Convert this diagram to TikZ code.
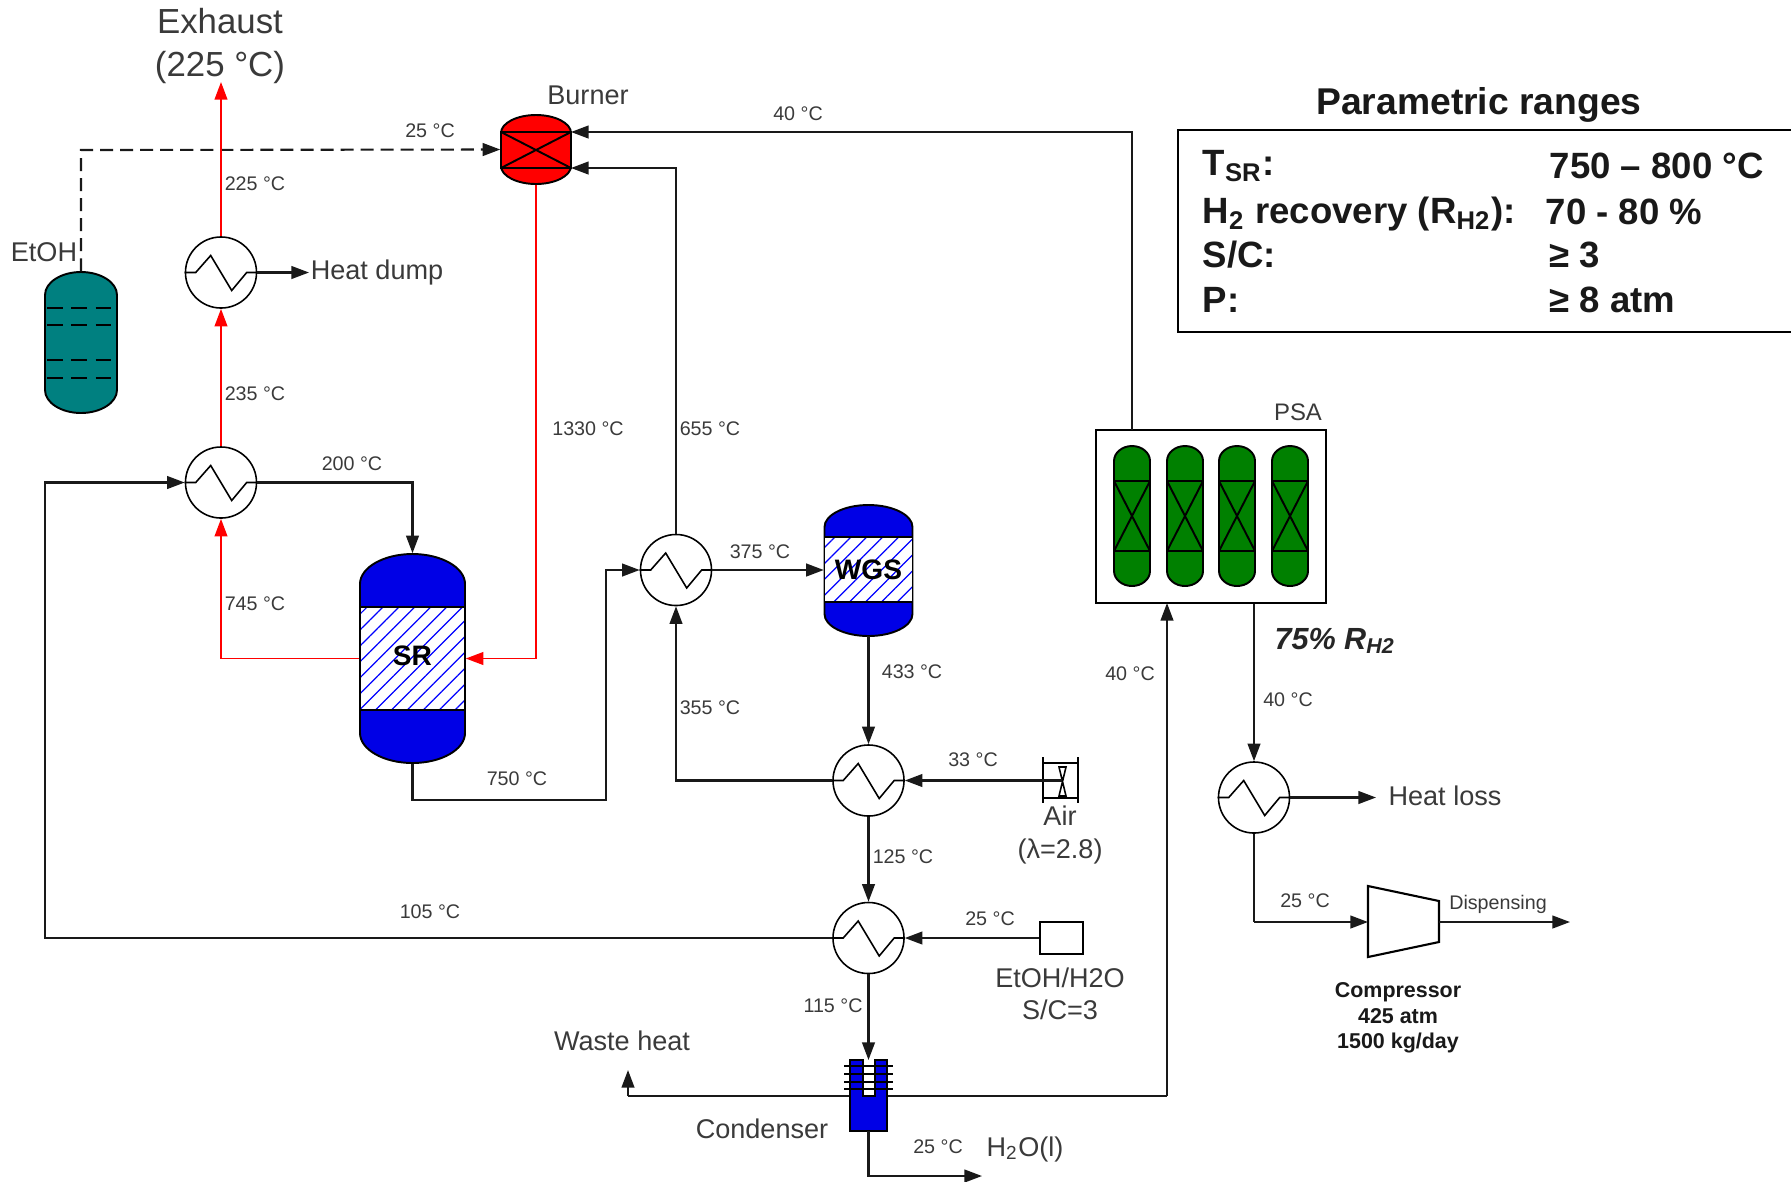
\documentclass[tikz,border=0pt]{standalone}
\usepackage{fontspec}
\setmainfont{Liberation Sans}
\usetikzlibrary{arrows.meta,patterns.meta}

\definecolor{vesselblue}{HTML}{0000E6}
\definecolor{tankteal}{HTML}{008080}
\definecolor{bedgreen}{HTML}{008000}
\definecolor{inktext}{HTML}{3A3A3A}

\tikzset{
  pipe/.style={line width=0.6pt,draw=black!90},
  flow/.style={pipe,-{Triangle[length=5pt,width=3.6pt]}},
  redflow/.style={flow,draw=red,line width=0.55pt},
  hx/.style={circle,draw,line width=0.45pt,fill=white,minimum size=0.71cm,inner sep=0pt},
  bodytext/.style={inner sep=0pt,font=\fontsize{8}{9}\selectfont\bfseries,text=black},
  lab/.style={inner sep=0pt,text=inktext,font=\fontsize{5.6}{6.6}\selectfont},
  mid/.style={inner sep=0pt,text=inktext,align=center,font=\fontsize{7.7}{9.2}\selectfont},
  big/.style={inner sep=0pt,text=inktext,align=center,font=\fontsize{9.9}{12.3}\selectfont},
  notetext/.style={inner sep=0pt,text=black!90,align=center,font=\fontsize{6.1}{7.3}\selectfont\bfseries},
  rangetext/.style={inner sep=0pt,anchor=west,text=black!90,font=\fontsize{10.4}{12}\selectfont\bfseries},
  hatch/.style={line width=0.55pt,preaction={fill=white},pattern={Lines[angle=45,distance=3.2pt,line width=0.35pt]},pattern color=blue},
  tray/.style={line width=0.75pt,dash pattern=on 4.5pt off 2.4pt}
}

% cx, top, bottom, half width, head height, colour
\newcommand{\drum}[6]{\filldraw[fill=#6,line width=0.55pt] ({#1-#4},{#3-#5}) -- ({#1-#4},{#2+#5}) .. controls ({#1-#4},{#2+0.45*#5}) and ({#1-0.55*#4},#2) .. (#1,#2) .. controls ({#1+0.55*#4},#2) and ({#1+#4},{#2+0.45*#5}) .. ({#1+#4},{#2+#5}) -- ({#1+#4},{#3-#5}) .. controls ({#1+#4},{#3-0.45*#5}) and ({#1+0.55*#4},#3) .. (#1,#3) .. controls ({#1-0.55*#4},#3) and ({#1-#4},{#3-0.45*#5}) .. cycle;}
% left, top, right, bottom
\newcommand{\crossbed}[4]{\draw[line width=0.55pt] (#1,#2) rectangle (#3,#4) (#1,#2) -- (#3,#4) (#1,#4) -- (#3,#2);}
\newcommand{\coil}[1]{\draw[line width=0.45pt] (#1.west) -- ++(11,0) -- ++(15,-17) -- ++(21,35) -- ++(15,-18) -- (#1.east);}

\begin{document}
\begin{tikzpicture}[x=0.01cm,y=-0.01cm]
\useasboundingbox (0,0) rectangle (1791,1181);

\drum{81}{272}{413}{36}{23}{tankteal} % tank
\draw[tray] (47,308) -- (112,308); % tray.1
\draw[tray] (47,325) -- (112,325); % tray.2
\draw[tray] (47,360) -- (112,360); % tray.3
\draw[tray] (47,378) -- (112,378); % tray.4
\node[inner sep=0pt,minimum width=0.72cm,minimum height=1.41cm] (Tank) at (81,342.5) {};

\drum{536}{115}{184}{35}{18}{red} % burner
\crossbed{501}{132}{571}{168}
\node[inner sep=0pt,minimum width=0.70cm,minimum height=0.69cm] (Burner) at (536,149.5) {};
\coordinate (burnerTop) at (571,132);
\coordinate (burnerLow) at (571,168);

\drum{412.5}{554}{763}{52.5}{30}{vesselblue} % steam reformer
\draw[hatch] (360,607) rectangle (465,710);
\node[bodytext,minimum width=1.05cm,minimum height=2.09cm] (SR) at (412.5,658.5) {\raisebox{1.5pt}{SR}};

\drum{868.5}{505}{636}{44}{22}{vesselblue} % shift reactor
\draw[hatch] (824.5,537) rectangle (912.5,602);
\node[bodytext,minimum width=0.88cm,minimum height=1.31cm] (WGS) at (868.5,570) {\raisebox{0.3pt}{WGS}};

\node[hx] (HXdump) at (221,272.5) {}; \coil{HXdump}
\node[hx] (HXsr) at (221,482.5) {}; \coil{HXsr}
\node[hx] (HXwgs) at (676,570) {}; \coil{HXwgs}
\node[hx] (HXair) at (868.5,780.5) {}; \coil{HXair}
\node[hx] (HXfeed) at (868.5,938) {}; \coil{HXfeed}
\node[hx] (HXpsa) at (1254,797.5) {}; \coil{HXpsa}

\node[draw,line width=0.65pt,inner sep=0pt,minimum width=2.30cm,minimum height=1.73cm] (PSA) at (1211,516.5) {};
\drum{1132}{446}{586}{18}{15}{bedgreen} % column.1
\crossbed{1114}{481}{1150}{551}
\drum{1185}{446}{586}{18}{15}{bedgreen} % column.2
\crossbed{1167}{481}{1203}{551}
\drum{1237}{446}{586}{18}{15}{bedgreen} % column.3
\crossbed{1219}{481}{1255}{551}
\drum{1290}{446}{586}{18}{15}{bedgreen} % column.4
\crossbed{1272}{481}{1308}{551}

% condenser
\draw[pipe] (628,1096) -- (850,1096);
\draw[pipe] (887,1096) -- (1167,1096);
\filldraw[fill=vesselblue,line width=0.3pt] (850,1060) -- (863,1060) -- (863,1096) -- (875,1096) -- (875,1060) -- (887,1060) -- (887,1131) -- (850,1131) -- cycle;
\draw[line width=0.5pt] (844,1066) -- (893,1066); % coil.1
\draw[line width=0.5pt] (844,1074) -- (893,1074); % coil.2
\draw[line width=0.5pt] (844,1082) -- (893,1082); % coil.3
\draw[line width=0.5pt] (844,1089) -- (893,1089); % coil.4
\coordinate (condTop) at (868.5,1060);
\coordinate (condBot) at (868.5,1131);
\coordinate (wasteBend) at (628,1096);
\coordinate (wasteEnd) at (628,1070);
\coordinate (psaBend) at (1167,1096);
\coordinate (psaIn) at (1167,603);
\coordinate (waterBend) at (868.5,1176);
\coordinate (waterEnd) at (982,1176);

% air fan
\node[inner sep=0pt,minimum width=0.35cm,minimum height=0.35cm] (Fan) at (1062,780.5) {};
\draw[line width=0.55pt] (1043,757) -- (1043,803); % fan.left
\draw[line width=0.55pt] (1078,757) -- (1078,803); % fan.right
\draw[line width=0.45pt] (1043,763) -- (1078,763); % fan.top
\draw[line width=0.45pt] (1043,798) -- (1078,798); % fan.bottom
\draw[line width=0.45pt] (1059,767) -- (1066,767) -- (1059,796) -- (1066,796) -- cycle; % blade

\node[draw,line width=0.5pt,inner sep=0pt,minimum width=0.43cm,minimum height=0.32cm] (Feed) at (1061.5,938) {};

% compressor
\draw[line width=0.6pt] (1368,886) -- (1439,901) -- (1439,942) -- (1368,957) -- cycle;
\coordinate (compIn) at (1368,922);
\coordinate (compOut) at (1439,922);
\coordinate (compBend) at (1254,922);
\coordinate (dispEnd) at (1570,922);

\coordinate (fuelBend) at (81,150);
\coordinate (exhaustEnd) at (221,82);
\coordinate (redBend) at (536,658.5);
\coordinate (srBend) at (221,658.5);
\coordinate (feedTurn) at (45,938);
\coordinate (feedUp) at (45,482.5);
\coordinate (hotBend) at (412.5,482.5);
\coordinate (outBend) at (606,800);
\coordinate (outUp) at (606,570);
\coordinate (airBend) at (676,780.5);
\coordinate (offBend) at (676,168);
\coordinate (psaOff) at (1132,430);
\coordinate (psaBendTop) at (1132,132);
\coordinate (dumpEnd) at (309,272.5);
\coordinate (lossEnd) at (1376,797.5);

\draw[pipe,dash pattern=on 3.7pt off 2pt,-{Triangle[length=5pt,width=3.6pt]}] (Tank.north) -- (fuelBend) -- (Burner.west); % EtOH to burner
\draw[redflow] (HXdump.north) -- (exhaustEnd); % exhaust
\draw[redflow] (HXsr.north) -- (HXdump.south); % 235
\draw[redflow] (srBend) -- (HXsr.south); % 745
\draw[pipe,draw=red,line width=0.55pt] (SR.west) -- (srBend);
\draw[redflow] (Burner.south) -- (redBend) -- (SR.east); % 1330
\draw[flow] (HXdump.east) -- (dumpEnd); % heat dump
\draw[flow] (HXsr.east) -- (hotBend) -- (SR.north); % 200
\draw[flow] (SR.south) |- (outBend) -- (outUp) -- (HXwgs.west); % 750
\draw[flow] (HXwgs.east) -- (WGS.west); % 375
\draw[flow] (HXwgs.north) -- (offBend) -- (burnerLow); % 655
\draw[flow] (WGS.south) -- (HXair.north); % 433
\draw[flow] (HXair.west) -- (airBend) -- (HXwgs.south); % 355
\draw[flow] (Fan.center) -- (HXair.east); % 33
\draw[flow] (HXair.south) -- (HXfeed.north); % 125
\draw[flow] (Feed.west) -- (HXfeed.east); % 25
\draw[flow] (HXfeed.west) -- (feedTurn) -- (feedUp) -- (HXsr.west); % 105
\draw[flow] (HXfeed.south) -- (condTop); % 115
\draw[flow] (condBot) -- (waterBend) -- (waterEnd); % 25
\draw[flow] (wasteBend) -- (wasteEnd); % waste heat
\draw[flow] (psaBend) -- (psaIn); % 40
\draw[flow] (psaOff) -- (psaBendTop) -- (burnerTop); % 40
\draw[flow] (HXpsa.north |- PSA.south) -- (HXpsa.north); % 40
\draw[flow] (HXpsa.east) -- (lossEnd); % heat loss
\draw[pipe] (HXpsa.south) -- (compBend);
\draw[flow] (compBend) -- (compIn);
\draw[flow] (compOut) -- (dispEnd); % dispensing

\node[big] (Exhaust) at (220,46) {Exhaust\\(225 °C)};
\node[mid] (BurnerName) at (588,95) {Burner};
\node[mid] (EtOH) at (44,252) {EtOH};
\node[mid] (HeatDump) at (377,272) {Heat dump};
\node[mid,font=\fontsize{6.8}{8}\selectfont] (PSAName) at (1298,412) {PSA};
\node[mid] (HeatLoss) at (1445,796) {Heat loss};
\node[mid] (Air) at (1060,835) {Air\\(λ=2.8)};
\node[mid] (FeedName) at (1060,994) {EtOH/H2O\\S/C=3};
\node[mid] (WasteHeat) at (622,1041) {Waste heat};
\node[mid] (Condenser) at (762,1129) {Condenser};
\node[mid] (Water) at (1025,1149) {H\textsubscript{2}O(l)};
\node[lab] (Dispensing) at (1498,904) {Dispensing};
\node[notetext] (CompressorName) at (1398,1018) {Compressor\\425 atm\\1500 kg/day};
\node[inner sep=0pt,text=black!85,font=\fontsize{8.7}{10}\selectfont\bfseries\itshape] (Recovery) at (1335,641) {75\% R\textsubscript{H2}};

\node[lab] (t25fuel) at (430,131) {25 °C};
\node[lab] (t40top) at (798,114) {40 °C};
\node[lab] (t225) at (255,184) {225 °C};
\node[lab] (t235) at (255,394) {235 °C};
\node[lab] (t200) at (352,464) {200 °C};
\node[lab] (t745) at (255,604) {745 °C};
\node[lab] (t1330) at (588,429) {1330 °C};
\node[lab] (t655) at (710,429) {655 °C};
\node[lab] (t375) at (760,552) {375 °C};
\node[lab] (t750) at (517,779) {750 °C};
\node[lab] (t355) at (710,708) {355 °C};
\node[lab] (t433) at (912,672) {433 °C};
\node[lab] (t33) at (973,760) {33 °C};
\node[lab] (t125) at (903,857) {125 °C};
\node[lab] (t25feed) at (990,919) {25 °C};
\node[lab] (t105) at (430,912) {105 °C};
\node[lab] (t115) at (833,1006) {115 °C};
\node[lab] (t40in) at (1130,674) {40 °C};
\node[lab] (t40out) at (1288,700) {40 °C};
\node[lab] (t25comp) at (1305,901) {25 °C};
\node[lab] (t25water) at (938,1147) {25 °C};

\node[inner sep=0pt,text=black!90,font=\fontsize{10.6}{12}\selectfont\bfseries] (RangesTitle) at (1479,105) {Parametric ranges};
\node[draw,line width=0.65pt,inner sep=0pt,minimum width=6.15cm,minimum height=2.02cm] (Ranges) at (1485.5,231) {};
\node[rangetext] (TsrName) at (1202,166) {T\textsubscript{SR}:};
\node[rangetext] (TsrValue) at (1549,166) {750 – 800 °C};
\node[rangetext] (RecName) at (1202,214) {H\textsubscript{2} recovery (R\textsubscript{H2}):};
\node[rangetext] (RecValue) at (1545,212) {70 - 80 \%};
\node[rangetext] (ScName) at (1202,255) {S/C:};
\node[rangetext] (ScValue) at (1549,255) {≥ 3};
\node[rangetext] (PName) at (1202,300) {P:};
\node[rangetext] (PValue) at (1549,300) {≥ 8 atm};
\end{tikzpicture}
\end{document}
